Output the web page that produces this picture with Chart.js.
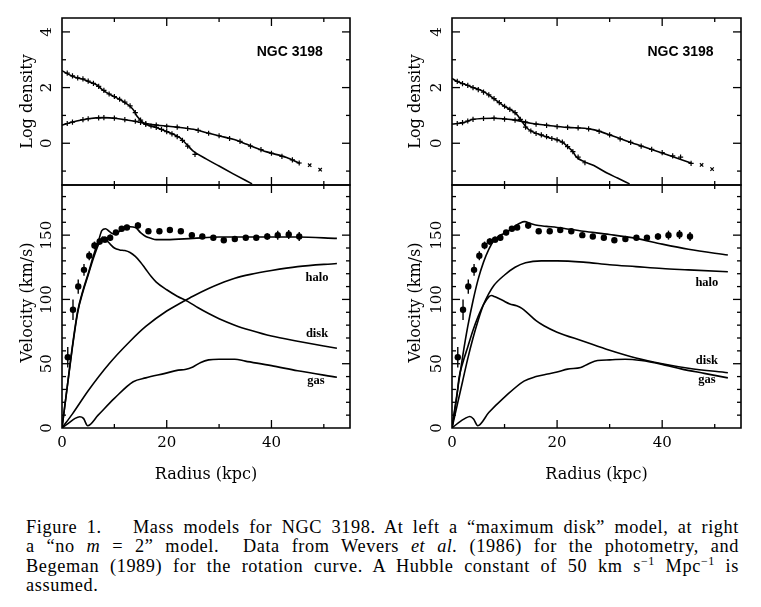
<!DOCTYPE html>
<html><head><meta charset="utf-8">
<script src="https://cdn.jsdelivr.net/npm/chart.js@4.4.1/dist/chart.umd.min.js"></script>
<style>
html,body{margin:0;padding:0;background:#fff;width:761px;height:607px;overflow:hidden;}
canvas{position:absolute;top:0;}
#c1{left:0;}
#c2{left:390px;}
#cap{position:absolute;left:26px;top:518px;width:713px;font-family:"Liberation Serif",serif;font-size:18.3px;letter-spacing:0.6px;line-height:19.3px;color:#000;}
.ln{text-align:justify;text-align-last:justify;white-space:nowrap;}
.last{text-align:left;}
.sup{position:relative;top:-7px;font-size:12px;line-height:0;}
.gap{display:inline-block;width:22px;}
</style>
</head><body>
<canvas id="c1" width="380" height="500"></canvas>
<canvas id="c2" width="371" height="500"></canvas>
<div id="cap">
<div class="ln">Figure 1.<span class="gap"></span> Mass models for NGC 3198. At left a “maximum disk” model, at right</div>
<div class="ln">a “no <i>m</i> = 2” model. &nbsp;Data from Wevers <i>et al.</i> (1986) for the photometry, and</div>
<div class="ln">Begeman (1989) for the rotation curve. A Hubble constant of 50 km s<span class="sup">−1</span> Mpc<span class="sup">−1</span> is</div>
<div class="last">assumed.</div>
</div>
<script>
// ---------- tick values / labels ----------
const xMajorTicks = [0, 20, 40];
const xMinorTicks = [10, 30, 50];
const yTopMajorTicks = [0, 2, 4];
const yTopMinorTicks = [-1, 1, 3];
const yBotMajorTicks = [0, 50, 100, 150];
const yBotMinorTicks = [10, 20, 30, 40, 60, 70, 80, 90, 110, 120, 130, 140, 160, 170, 180];

// ---------- rotation curve observations (same in both panels) ----------
const rObs = [1.1, 2.1, 3.1, 4.2, 5.2, 6.2, 7.2, 8.2, 9.2, 10.3, 11.4, 12.4, 14.5, 16.5, 18.6, 20.6, 22.7, 24.8, 26.8, 28.9, 30.9, 33.0, 35.1, 37.1, 39.2, 41.2, 43.3, 45.3];
const vObs = [55, 92, 110, 123, 134, 142, 145, 146.5, 148, 152, 155, 156, 157.5, 153, 153, 154, 153, 150, 149, 148, 146, 147, 148, 148, 149, 150, 150.5, 149];
const eObs = [8, 8, 5.5, 4.5, 3.5, 3, 2.5, 2.5, 2.5, 2, 2, 2, 2.5, 2, 2, 2, 2, 2, 2, 2, 2, 2, 2, 2, 2.5, 3.5, 3.5, 3.5];

// ---------- left panel: "maximum disk" ----------
const rStarL = [0, 1, 2, 2.8, 4, 5, 6.6, 8, 9.2, 10, 11.1, 12, 13, 13.7, 14.3, 15, 15.5, 16.5, 18.1, 19.5, 21.3, 22.5, 23.5, 25, 27.6, 30, 32.7, 36.3];
const vStarL = [2.61, 2.5, 2.41, 2.35, 2.3, 2.22, 2.1, 1.88, 1.75, 1.67, 1.57, 1.46, 1.33, 1.18, 0.98, 0.83, 0.74, 0.65, 0.56, 0.46, 0.32, 0.2, 0.02, -0.27, -0.57, -0.82, -1.1, -1.46];
const rStarMkL = [1, 2, 3, 4, 5, 6, 7, 8, 9, 10, 11, 12, 13, 14, 15, 16, 17, 18, 19, 20, 21, 22, 23, 24, 25.4];
const vStarMkL = [2.52, 2.42, 2.35, 2.31, 2.23, 2.15, 2.04, 1.9, 1.77, 1.68, 1.58, 1.48, 1.34, 1.1, 0.83, 0.68, 0.62, 0.57, 0.5, 0.42, 0.34, 0.24, 0.1, -0.1, -0.4];
const rGasDL = [0, 2.8, 5, 7.9, 10.5, 13.6, 16.2, 18.7, 21.9, 25.1, 27.6, 30.1, 32.7, 35.3, 39.1, 42.9, 45.5];
const vGasDL = [0.65, 0.8, 0.88, 0.92, 0.89, 0.8, 0.7, 0.64, 0.58, 0.5, 0.38, 0.26, 0.14, -0.04, -0.31, -0.51, -0.73];
const rGasMkL = [1, 2, 4, 5, 7, 8, 10, 12, 14, 15, 16, 18, 20, 22, 24, 26, 28, 30, 32, 34, 36, 38, 40, 42, 44, 45.3];
const vGasMkL = [0.71, 0.76, 0.85, 0.88, 0.91, 0.92, 0.9, 0.85, 0.79, 0.75, 0.71, 0.65, 0.61, 0.58, 0.53, 0.46, 0.36, 0.27, 0.17, 0.07, -0.1, -0.23, -0.36, -0.47, -0.6, -0.71];
const rOuterL = [47.3, 49.3];
const vOuterL = [-0.79, -0.95];
const rTotL = [0, 1, 2, 3, 4, 5, 6, 7, 7.6, 8.3, 9, 9.8, 10.7, 12, 13, 14, 15, 16, 17, 18, 20, 25, 30, 35, 40, 45, 52.5];
const vTotL = [0, 32, 64, 91, 107, 120, 134, 146, 153.5, 155, 153, 151, 152.5, 155, 156.5, 156, 152, 149, 147.5, 146.5, 146.5, 147.5, 148.5, 148.5, 148.5, 148.5, 147.5];
const rDiskL = [0, 1, 2, 3, 4, 5, 6, 7, 7.8, 8.5, 9.2, 10, 11, 12, 13, 14, 15, 16, 17, 18, 20, 22, 24, 26, 28, 30, 33, 36, 40, 45, 52.5];
const vDiskL = [0, 32, 63, 90, 106, 119, 132, 143, 148.5, 146, 143, 140, 138.5, 138, 136.5, 133.5, 129, 123.5, 118, 113.5, 107.5, 102.5, 98.5, 93.5, 89, 85, 80, 76, 71.5, 67.5, 62];
const rHaloL = [0, 2, 5, 9, 13, 16, 20, 23, 25, 28, 30, 33, 36, 40, 45, 52.5];
const vHaloL = [0, 11, 29, 50, 67.5, 79, 91, 98, 102.5, 108.5, 112, 116.5, 119.5, 122.5, 125.5, 128];
const rGasVL = [0, 1.2, 2.5, 3.4, 4.1, 4.9, 6.9, 10, 13.6, 16, 19.7, 22.2, 23.5, 25, 26.5, 28, 30, 33, 35, 40, 45, 52.5];
const vGasVL = [0, 3.6, 7.5, 8.8, 7.5, 1.8, 10, 23, 36, 39, 42.5, 45, 45.5, 47.5, 51, 53, 53.5, 53.5, 52, 48.5, 44.5, 39.5];

// ---------- right panel: "no m = 2" ----------
const rStarR = [0, 1, 2.8, 4, 5.4, 6.5, 7.9, 9, 9.9, 11, 11.8, 12.5, 13.1, 13.7, 14.3, 15.5, 16.9, 18.5, 20.1, 21, 22, 23, 23.6, 25.2, 27, 29.6, 31.5, 33.8];
const vStarR = [2.33, 2.22, 2.09, 2.0, 1.91, 1.8, 1.61, 1.46, 1.34, 1.22, 1.13, 1.0, 0.83, 0.68, 0.54, 0.4, 0.3, 0.2, 0.12, 0.04, -0.12, -0.3, -0.48, -0.66, -0.8, -1.08, -1.25, -1.46];
const rStarMkR = [1, 2, 3, 4, 5, 6, 7, 8, 9, 10, 11, 12, 13, 14, 15, 16, 17, 18, 19, 20, 21, 22, 23, 24, 25.3];
const vStarMkR = [2.22, 2.14, 2.08, 2.0, 1.93, 1.84, 1.74, 1.6, 1.46, 1.33, 1.22, 1.1, 0.86, 0.58, 0.44, 0.35, 0.3, 0.24, 0.17, 0.12, 0.04, -0.12, -0.3, -0.5, -0.7];
const rGasDR = [0, 2.2, 4.1, 7.9, 11.8, 15, 18.8, 22, 25.2, 27.1, 30.9, 33.5, 37.3, 41.1, 45.6];
const vGasDR = [0.69, 0.74, 0.86, 0.9, 0.84, 0.72, 0.63, 0.57, 0.54, 0.48, 0.24, 0.06, -0.18, -0.42, -0.72];
const rGasMkR = [1, 2, 3, 4, 6, 8, 10, 12, 14, 16, 18, 20, 22, 24, 26, 28, 30, 32, 34, 36, 38, 40, 42, 43.5, 45.5];
const vGasMkR = [0.71, 0.74, 0.8, 0.86, 0.89, 0.9, 0.87, 0.83, 0.76, 0.69, 0.64, 0.6, 0.57, 0.55, 0.52, 0.43, 0.3, 0.16, 0.03, -0.1, -0.22, -0.34, -0.45, -0.5, -0.72];
const rOuterR = [47.5, 49.5];
const vOuterR = [-0.78, -0.93];
const rTotR = [0, 1, 2, 3, 4, 5, 6, 7, 8, 9, 10, 11, 12, 13, 13.8, 15, 16.5, 18, 20, 25, 30, 35, 40, 45, 52.5];
const vTotR = [0, 28, 55, 79, 99, 116, 129, 139, 146, 149.5, 151.5, 154, 157, 159.5, 160.5, 159, 157.5, 156.8, 156, 153, 150.5, 147.5, 143, 139, 134.5];
const rDiskR = [0, 1, 1.3, 2, 3, 4, 5, 6, 7, 7.5, 8.2, 9.6, 11, 12.3, 13.3, 14.5, 16, 17.5, 20, 25, 30, 35, 40, 45, 52.5];
const vDiskR = [0, 27, 38, 50, 63, 76, 87, 96, 102, 103, 102, 99.3, 96.5, 95, 93, 89, 83.5, 79.5, 74.5, 67.5, 60.5, 54.5, 50, 46.5, 43];
const rHaloR = [0, 1, 2, 3, 4, 5, 6, 7, 8, 10, 12, 14, 17, 20, 25, 30, 35, 40, 45, 52.5];
const vHaloR = [0, 18, 36, 54, 70, 84, 96, 104.5, 111, 119, 125, 128.5, 130, 130, 129, 127, 125.5, 124, 123, 121.5];
const rGasVR = [0, 1.2, 2.5, 3.4, 4.1, 4.9, 7, 10, 13.7, 16, 18.2, 20, 22, 24.5, 26, 27.7, 30, 33, 36, 40, 43.6, 48, 52.5];
const vGasVR = [0, 4, 7.5, 9, 7, 1.8, 12, 24, 36.5, 40, 42, 43.5, 45.8, 47, 50, 52.5, 53, 53.5, 52.5, 49.5, 46, 42.5, 39];

// ---------- helpers ----------
const pts = (rs, vs) => rs.map((r, i) => ({x: r, y: vs[i]}));
const lineDs = (rs, vs, axis) => ({data: pts(rs, vs), yAxisID: axis, showLine: true, pointRadius: 0,
  borderColor: '#000', borderWidth: 1.6, cubicInterpolationMode: 'monotone', fill: false});
const markDs = (rs, vs, axis, style, rad, bw) => ({data: pts(rs, vs), yAxisID: axis, showLine: false,
  pointStyle: style, pointRadius: rad, pointBorderWidth: bw, borderColor: '#000', backgroundColor: '#000'});

const SERIF = '"DejaVu Serif", serif';

function resetCtx(ctx) {
  ctx.setLineDash([]); ctx.globalAlpha = 1; ctx.globalCompositeOperation = 'source-over';
  ctx.strokeStyle = '#000'; ctx.fillStyle = '#000'; ctx.lineCap = 'butt'; ctx.lineJoin = 'miter';
}

const figurePlugin = {
  id: 'figurePanel',
  afterDatasetsDraw(chart) {
    const ctx = chart.ctx, xs = chart.scales.x, yB = chart.scales.yBot;
    ctx.save();
    resetCtx(ctx);
    ctx.lineWidth = 1.4;
    rObs.forEach((r, i) => {
      const px = xs.getPixelForValue(r);
      ctx.beginPath();
      ctx.moveTo(px, yB.getPixelForValue(vObs[i] - eObs[i]));
      ctx.lineTo(px, yB.getPixelForValue(vObs[i] + eObs[i]));
      ctx.stroke();
    });
    ctx.restore();
  },
  afterDraw(chart, args, o) {
    const ctx = chart.ctx, xs = chart.scales.x, yT = chart.scales.yTop, yB = chart.scales.yBot;
    const L = chart.chartArea.left, R = chart.chartArea.right;
    ctx.save();
    resetCtx(ctx);
    ctx.lineWidth = 1.6;
    [yT, yB].forEach(s => {
      ctx.beginPath(); ctx.rect(L, s.top, R - L, s.bottom - s.top); ctx.stroke();
    });
    ctx.lineWidth = 1.3;
    const seg = (x1, y1, x2, y2) => { ctx.beginPath(); ctx.moveTo(x1, y1); ctx.lineTo(x2, y2); ctx.stroke(); };
    const xt = (vals, len) => vals.forEach(v => {
      const px = xs.getPixelForValue(v);
      if (px <= L + 1 || px >= R - 1) return;
      [yT, yB].forEach(s => { seg(px, s.top, px, s.top + len); seg(px, s.bottom, px, s.bottom - len); });
    });
    xt(xMajorTicks, 8); xt(xMinorTicks, 4);
    const yt = (s, vals, len) => vals.forEach(v => {
      const py = s.getPixelForValue(v);
      if (py <= s.top + 1 || py >= s.bottom - 1) return;
      seg(L, py, L + len, py); seg(R, py, R - len, py);
    });
    yt(yT, yTopMajorTicks, 8); yt(yT, yTopMinorTicks, 4);
    yt(yB, yBotMajorTicks, 8); yt(yB, yBotMinorTicks, 4);

    const rot = (t, x, y) => { ctx.save(); ctx.translate(x, y); ctx.rotate(-Math.PI / 2); ctx.fillText(t, 0, 0); ctx.restore(); };
    ctx.textAlign = 'center'; ctx.textBaseline = 'middle';
    ctx.font = '15px ' + SERIF;
    xMajorTicks.forEach(v => ctx.fillText(String(v), xs.getPixelForValue(v), yB.bottom + 15));
    yTopMajorTicks.forEach(v => rot(String(v), L - 15, yT.getPixelForValue(v)));
    yBotMajorTicks.forEach(v => rot(String(v), L - 15, yB.getPixelForValue(v)));
    ctx.font = '16px ' + SERIF;
    rot('Log density', o.titleX, (yT.top + yT.bottom) / 2);
    rot('Velocity (km/s)', o.titleX, (yB.top + yB.bottom) / 2 - 4);
    ctx.fillText('Radius (kpc)', (L + R) / 2, yB.bottom + 47);
    ctx.font = 'bold 14px "Liberation Sans", sans-serif';
    ctx.fillText('NGC 3198', xs.getPixelForValue(o.name[0]), yT.getPixelForValue(o.name[1]));
    ctx.font = 'bold 12.5px "Liberation Serif", serif';
    o.notes.forEach(n => ctx.fillText(n.t, xs.getPixelForValue(n.x), yB.getPixelForValue(n.y)));
    ctx.restore();
  }
};

function makeChart(id, pad, titleX, sets, notes) {
  return new Chart(document.getElementById(id), {
    type: 'scatter',
    data: {datasets: sets},
    options: {
      responsive: false, animation: false, devicePixelRatio: 1, events: [],
      layout: {padding: pad},
      plugins: {legend: {display: false}, tooltip: {enabled: false},
        figurePanel: {titleX: titleX, name: [43.5, 3.27], notes: notes}},
      scales: {
        x: {type: 'linear', min: 0, max: 55, display: false},
        yBot: {type: 'linear', min: 0, max: 189, position: 'left', stack: 'v', stackWeight: 243, display: false},
        yTop: {type: 'linear', min: -1.5, max: 4.5, position: 'left', stack: 'v', stackWeight: 167, display: false}
      }
    },
    plugins: [figurePlugin]
  });
}

makeChart('c1', {left: 62, right: 30, top: 18, bottom: 72}, 28, [
  lineDs(rStarL, vStarL, 'yTop'),
  lineDs(rGasDL, vGasDL, 'yTop'),
  markDs(rStarMkL, vStarMkL, 'yTop', 'cross', 2.6, 1.2),
  markDs(rGasMkL, vGasMkL, 'yTop', 'cross', 2.6, 1.2),
  markDs(rOuterL, vOuterL, 'yTop', 'crossRot', 2.4, 1.2),
  lineDs(rTotL, vTotL, 'yBot'),
  lineDs(rDiskL, vDiskL, 'yBot'),
  lineDs(rHaloL, vHaloL, 'yBot'),
  lineDs(rGasVL, vGasVL, 'yBot'),
  markDs(rObs, vObs, 'yBot', 'circle', 3.2, 0)
], [{t: 'halo', x: 48.7, y: 117}, {t: 'disk', x: 48.7, y: 73}, {t: 'gas', x: 48.5, y: 37}]);

makeChart('c2', {left: 62, right: 20, top: 18, bottom: 72}, 26, [
  lineDs(rStarR, vStarR, 'yTop'),
  lineDs(rGasDR, vGasDR, 'yTop'),
  markDs(rStarMkR, vStarMkR, 'yTop', 'cross', 2.6, 1.2),
  markDs(rGasMkR, vGasMkR, 'yTop', 'cross', 2.6, 1.2),
  markDs(rOuterR, vOuterR, 'yTop', 'crossRot', 2.4, 1.2),
  lineDs(rTotR, vTotR, 'yBot'),
  lineDs(rDiskR, vDiskR, 'yBot'),
  lineDs(rHaloR, vHaloR, 'yBot'),
  lineDs(rGasVR, vGasVR, 'yBot'),
  markDs(rObs, vObs, 'yBot', 'circle', 3.2, 0)
], [{t: 'halo', x: 48.5, y: 112.7}, {t: 'disk', x: 48.5, y: 52}, {t: 'gas', x: 48.5, y: 37.3}]);
</script>
</body></html>
